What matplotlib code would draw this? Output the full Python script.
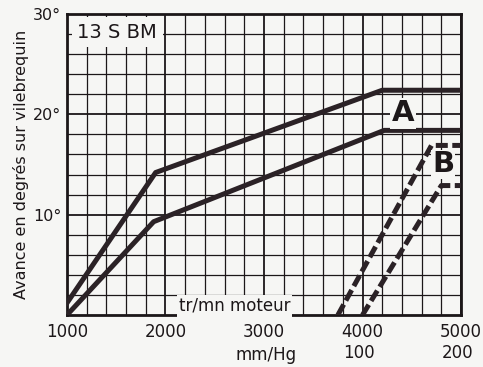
import numpy as np
import matplotlib.pyplot as plt
from matplotlib.ticker import FixedLocator, MultipleLocator

# courbes d'avance (tr/mn moteur -> degres vilebrequin)
rpm_a_haut = [1000, 1900, 4200, 5000]
avance_a_haut = [1.2, 14.2, 22.4, 22.4]
rpm_a_bas = [1000, 1880, 4220, 5000]
avance_a_bas = [0, 9.3, 18.4, 18.4]
rpm_b_haut = [3750, 4700, 5000]
avance_b_haut = [0, 16.9, 16.9]
rpm_b_bas = [4000, 4800, 5000]
avance_b_bas = [0, 12.9, 12.9]

x_ticks = [1000, 2000, 3000, 4000, 5000]
y_ticks = [10, 20, 30]
y_labels = ["10°", "20°", "30°"]
depression_pos = [4000, 5000]
depression_labels = ["100", "200"]

INK = "#1c1719"
CURVE = "#2b2226"
BG = "#f6f6f4"

fig = plt.figure(figsize=(4.83, 3.67), dpi=100)
fig.patch.set_facecolor(BG)
ax = fig.add_axes([0.1387, 0.1417, 0.8158, 0.8202])
ax.set_facecolor(BG)

ax.set_xlim(1000, 5000)
ax.set_ylim(0, 30)

# quadrillage
ax.xaxis.set_major_locator(FixedLocator(x_ticks))
ax.xaxis.set_minor_locator(MultipleLocator(200))
ax.yaxis.set_major_locator(FixedLocator(y_ticks))
ax.yaxis.set_minor_locator(MultipleLocator(2))
ax.grid(which="minor", color=INK, lw=0.9)
ax.grid(which="major", color=INK, lw=1.3)
ax.set_axisbelow(True)
ax.tick_params(which="both", length=0)
ax.tick_params(axis="x", pad=6, labelsize=12, labelcolor=INK)
ax.tick_params(axis="y", pad=4, labelsize=11.5, labelcolor=INK)
ax.set_yticklabels(y_labels)
for sp in ax.spines.values():
    sp.set_linewidth(2.0)
    sp.set_color(INK)

# courbes A (traits pleins) et B (tirets)
ax.plot(rpm_a_haut, avance_a_haut, color=CURVE, lw=3.6, solid_joinstyle="round", zorder=3)
ax.plot(rpm_a_bas, avance_a_bas, color=CURVE, lw=3.6, solid_joinstyle="round", zorder=3)
ax.plot(rpm_b_haut, avance_b_haut, color=CURVE, lw=3.6, ls=(0, (2.4, 0.9)), zorder=3)
ax.plot(rpm_b_bas, avance_b_bas, color=CURVE, lw=3.6, ls=(0, (2.4, 0.9)), zorder=3)

ax.text(1508, 28.2, "13 S BM", fontsize=14, color=INK, ha="center", va="center",
        bbox=dict(facecolor=BG, edgecolor="none", pad=4), zorder=4)
ax.text(4410, 20.1, "A", fontsize=21, fontweight="bold", color=INK, ha="center", va="center",
        bbox=dict(facecolor=BG, edgecolor="none", pad=1), zorder=4)
ax.text(4817, 15.0, "B", fontsize=21, fontweight="bold", color=INK, ha="center", va="center",
        bbox=dict(facecolor=BG, edgecolor="none", pad=0.5), zorder=4)
ax.text(2700, 0.9, "tr/mn moteur", fontsize=12, color=INK, ha="center", va="center",
        bbox=dict(facecolor=BG, edgecolor="none", pad=1.5), zorder=4)

# deuxieme echelle : depression
trans = ax.get_xaxis_transform()
ax.text(3020, -0.133, "mm/Hg", fontsize=12, color=INK, ha="center", va="center",
        transform=trans, clip_on=False)
for pos, lab in zip(depression_pos, depression_labels):
    ax.text(pos - 40, -0.127, lab, fontsize=12, color=INK, ha="center", va="center",
            transform=trans, clip_on=False)

ax.set_ylabel("Avance en degrés sur vilebrequin", fontsize=11.5, color=INK, labelpad=3)

fig.savefig("out.png", dpi=100, facecolor=BG)
